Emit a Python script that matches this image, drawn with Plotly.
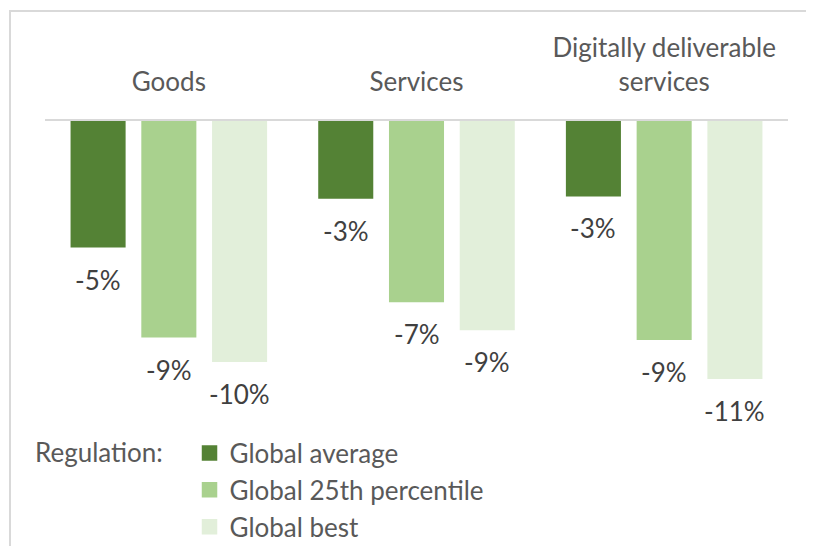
import plotly.graph_objects as go

categories = ["Goods", "Services", "Digitally deliverable<br>services"]
series_names = ["Global average", "Global 25th percentile", "Global best"]
global_average = [-5.2, -3.2, -3.1]
global_25th = [-8.9, -7.45, -9.0]
global_best = [-9.9, -8.6, -10.6]
colors = ["#548235", "#A9D18E", "#E2EFDA"]

series = [global_average, global_25th, global_best]
TXT = "#595959"
LBL = "#404040"
FONT = "Lato"

fig = go.Figure()
for name, vals, col in zip(series_names, series, colors):
    fig.add_trace(go.Bar(
        x=categories, y=vals, name=name,
        marker=dict(color=col, line=dict(width=0)),
        hoverinfo="skip", showlegend=False,
    ))
for name, col in zip(series_names, colors):
    fig.add_trace(go.Scatter(
        x=[None], y=[None], mode="markers", name=name,
        marker=dict(symbol="square", size=15.5, color=col, line=dict(width=0)),
        hoverinfo="skip",
    ))

for i, vals in enumerate(series):
    for cat, v in zip(categories, vals):
        fig.add_annotation(
            x=cat, y=v, xref="x", yref="y",
            xshift=(i - 1) * 70.7, yshift=-32,
            yanchor="middle", xanchor="center",
            text=f"{v:.0f}%", showarrow=False,
            font=dict(family=FONT, size=26, color=LBL),
        )

fig.add_annotation(
    x=-0.0155, y=-0.135, xref="paper", yref="paper",
    xanchor="left", yanchor="middle", showarrow=False,
    text="Regulation:", font=dict(family=FONT, size=26, color=TXT),
)

fig.add_shape(
    type="rect", xref="paper", yref="paper",
    x0=-0.0471, x1=1.2, y0=1.3767, y1=-0.7,
    line=dict(color="#D9D9D9", width=2), fillcolor="rgba(0,0,0,0)",
)

fig.update_layout(
    width=806, height=538,
    margin=dict(l=37, r=26, t=113, b=133, autoexpand=False),
    paper_bgcolor="white", plot_bgcolor="white",
    barmode="group", bargap=0.143, bargroupgap=0.222,
    font=dict(family=FONT, size=26, color=TXT),
    showlegend=True,
    legend=dict(
        orientation="v", x=0.1945, y=-0.057, xanchor="left", yanchor="top",
        font=dict(family=FONT, size=26, color=TXT),
        bgcolor="rgba(0,0,0,0)", traceorder="normal",
    ),
    xaxis=dict(
        side="top", showline=True, linecolor="#D9D9D9", linewidth=1.5,
        ticks="", ticklabelstandoff=18, showgrid=False,
        tickfont=dict(family=FONT, size=26, color=TXT),
        fixedrange=True,
    ),
    yaxis=dict(
        range=[-12, 0], visible=False, showgrid=False, zeroline=False,
        fixedrange=True,
    ),
)

fig.write_html("out.html")
